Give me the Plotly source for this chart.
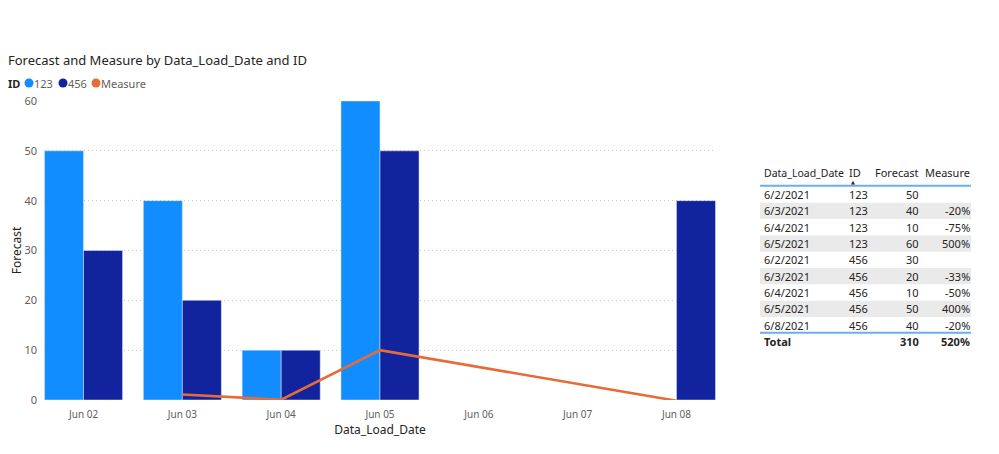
import plotly.graph_objects as go

# ---------------- data ----------------
dates = ["Jun 02", "Jun 03", "Jun 04", "Jun 05", "Jun 06", "Jun 07", "Jun 08"]
bar_dates = ["Jun 02", "Jun 03", "Jun 04", "Jun 05", "Jun 08"]
forecast_123 = [50, 40, 10, 60, None]
forecast_456 = [30, 20, 10, 50, 40]
measure_dates = ["Jun 03", "Jun 04", "Jun 05", "Jun 08"]
measure_line = [1.1, 0.05, 10.0, -0.15]
y_ticks = [0, 10, 20, 30, 40, 50, 60]

table_header = ["Data_Load_Date", "ID", "Forecast", "Measure"]
tbl_date = ["6/2/2021", "6/3/2021", "6/4/2021", "6/5/2021", "6/2/2021",
            "6/3/2021", "6/4/2021", "6/5/2021", "6/8/2021"]
tbl_id = ["123", "123", "123", "123", "456", "456", "456", "456", "456"]
tbl_forecast = ["50", "40", "10", "60", "30", "20", "10", "50", "40"]
tbl_measure = ["", "-20%", "-75%", "500%", "", "-33%", "-50%", "400%", "-20%"]
total_label = "Total"
total_forecast = "310"
total_measure = "520%"

# ---------------- style ----------------
C123 = "#118DFF"
C456 = "#12239E"
CMEAS = "#E66C37"
FONT = "Segoe UI, Noto Sans, Open Sans, sans-serif"
DARK = "#252423"
GREY = "#605E5C"

W, H = 999, 454
OFF = 8  # page body margin offset
ML, MR, MT, MB = 36, 291, 93, 62
PW, PH = W - ML - MR, H - MT - MB


def px(x):
    return (x - OFF - ML) / PW


def py(y):
    return 1 - (y - OFF - MT) / PH


fig = go.Figure()
fig.add_trace(go.Bar(x=bar_dates, y=forecast_123, name="123",
                     marker_color=C123, showlegend=False))
fig.add_trace(go.Bar(x=bar_dates, y=forecast_456, name="456",
                     marker_color=C456, showlegend=False))
fig.add_trace(go.Scatter(x=measure_dates, y=measure_line, name="Measure",
                         mode="lines", line=dict(color=CMEAS, width=2.6),
                         cliponaxis=False, showlegend=False))

annotations = []
shapes = []

# title
annotations.append(dict(text="Forecast and Measure by Data_Load_Date and ID",
                        x=px(6), y=py(60), xref="paper", yref="paper",
                        xanchor="left", yanchor="middle", showarrow=False,
                        font=dict(family=FONT, size=13, color=DARK)))

# manual legend
annotations.append(dict(text="<b>ID</b>", x=px(6), y=py(83), xref="paper", yref="paper",
                        xanchor="left", yanchor="middle", showarrow=False,
                        font=dict(family=FONT, size=11, color=DARK)))
legend_items = [("123", C123, 29), ("456", C456, 63), ("Measure", CMEAS, 96)]
for name, col, cx in legend_items:
    shapes.append(dict(type="circle", xref="paper", yref="paper",
                       x0=px(cx - 4.5), x1=px(cx + 4.5), y0=py(83 + 4.5), y1=py(83 - 4.5),
                       fillcolor=col, line=dict(width=0)))
    annotations.append(dict(text=name, x=px(cx + 3), y=py(83), xref="paper", yref="paper",
                            xanchor="left", yanchor="middle", showarrow=False,
                            font=dict(family=FONT, size=11, color=GREY)))

# table
col_left = [762, 847]
col_right = [921, 972]
TX0, TX1 = 760, 971
header_y = 172.5
row0_y = 194.5
row_h = 16.33
total_y = 341.5
tfont = dict(family=FONT, size=11, color=DARK)

for i in range(len(tbl_date)):
    yc = row0_y + i * row_h
    if i % 2 == 1:
        shapes.append(dict(type="rect", xref="paper", yref="paper",
                           x0=px(TX0), x1=px(TX1), y0=py(yc + row_h / 2), y1=py(yc - row_h / 2),
                           fillcolor="#EAEAEA", line=dict(width=0), layer="below"))

for j, h in enumerate(table_header):
    if j < 2:
        annotations.append(dict(text=h, x=px(col_left[j]), y=py(header_y), xref="paper", yref="paper",
                                xanchor="left", yanchor="middle", showarrow=False,
                                font=dict(family=FONT, size=10.5 if j == 0 else 11, color=DARK)))
    else:
        annotations.append(dict(text=h, x=px(col_right[j - 2]), y=py(header_y), xref="paper", yref="paper",
                                xanchor="right", yanchor="middle", showarrow=False, font=tfont))
annotations.append(dict(text="▲", x=px(853), y=py(181.5), xref="paper", yref="paper",
                        xanchor="center", yanchor="middle", showarrow=False,
                        font=dict(family="DejaVu Sans", size=5, color=DARK)))

for i in range(len(tbl_date)):
    yc = row0_y + i * row_h
    for txt, xx, anc in [(tbl_date[i], col_left[0], "left"), (tbl_id[i], col_left[1], "left"),
                         (tbl_forecast[i], col_right[0], "right"), (tbl_measure[i], col_right[1], "right")]:
        if txt == "":
            continue
        annotations.append(dict(text=txt, x=px(xx), y=py(yc), xref="paper", yref="paper",
                                xanchor=anc, yanchor="middle", showarrow=False, font=tfont))

for txt, xx, anc in [(total_label, col_left[0], "left"), (total_forecast, col_right[0], "right"),
                     (total_measure, col_right[1], "right")]:
    annotations.append(dict(text="<b>" + txt + "</b>", x=px(xx), y=py(total_y), xref="paper", yref="paper",
                            xanchor=anc, yanchor="middle", showarrow=False, font=tfont))

for ly in [185.7, 332.7]:
    shapes.append(dict(type="line", xref="paper", yref="paper",
                       x0=px(TX0), x1=px(TX1), y0=py(ly), y1=py(ly),
                       line=dict(color="#6AAEF2", width=2)))

fig.update_layout(
    width=W, height=H,
    margin=dict(l=ML, r=MR, t=MT, b=MB, autoexpand=False),
    paper_bgcolor="white", plot_bgcolor="white",
    barmode="group", bargap=0.21, bargroupgap=0,
    showlegend=False,
    font=dict(family=FONT, color=GREY),
    annotations=annotations, shapes=shapes,
    xaxis=dict(type="category", categoryorder="array", categoryarray=dates,
               range=[-0.4, 6.4], showgrid=False, zeroline=False, showline=False,
               ticks="", ticklabelstandoff=7, automargin=False,
               tickfont=dict(family=FONT, size=10, color=GREY),
               title=dict(text="Data_Load_Date", font=dict(family=FONT, size=12, color=DARK),
                          standoff=3)),
    yaxis=dict(range=[0, 60], tickvals=y_ticks, showgrid=True, gridcolor="#C8C6C4",
               griddash="1px,3px", gridwidth=1, zeroline=False, showline=False, ticks="",
               ticklabelstandoff=6, automargin=False,
               tickfont=dict(family=FONT, size=11, color=GREY),
               title=dict(text="Forecast", font=dict(family=FONT, size=12, color=DARK),
                          standoff=3)),
)

fig.write_html("out.html")
